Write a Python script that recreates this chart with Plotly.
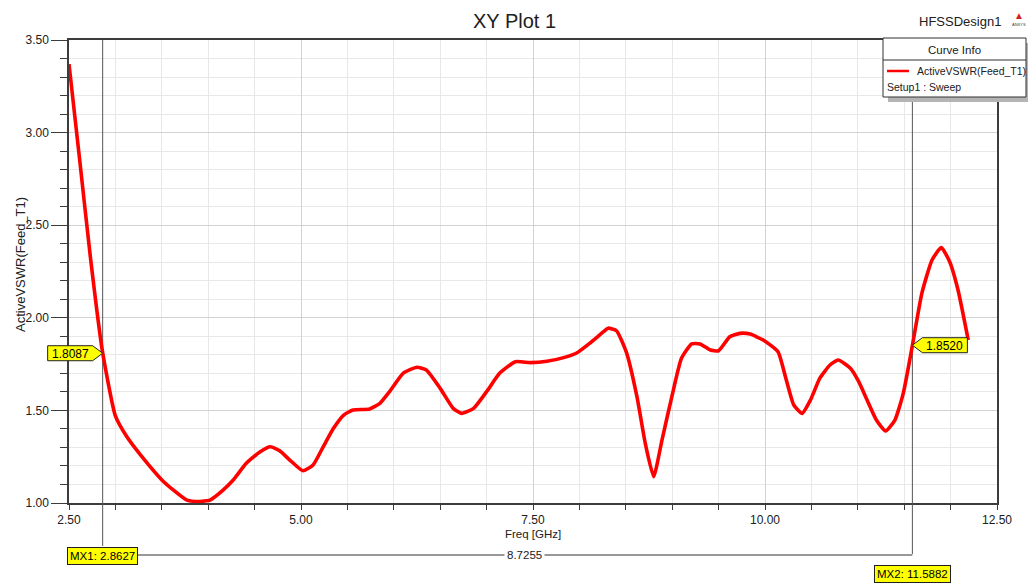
import plotly.graph_objects as go

# Swept frequency response of the active VSWR at port Feed_T1
freq_ghz = [2.50, 2.62, 2.73, 2.86, 3.00, 3.12, 3.27, 3.52, 3.77, 3.91,
            3.98, 4.02, 4.16, 4.27, 4.41, 4.56, 4.67, 4.77, 4.88, 5.02,
            5.13, 5.24, 5.35, 5.46, 5.56, 5.74, 5.85, 5.96, 6.10, 6.25,
            6.35, 6.50, 6.64, 6.73, 6.86, 7.00, 7.14, 7.31, 7.47, 7.65,
            7.83, 7.97, 8.11, 8.26, 8.31, 8.40, 8.51, 8.62, 8.71, 8.80,
            8.89, 9.00, 9.10, 9.21, 9.30, 9.41, 9.50, 9.62, 9.73, 9.84,
            9.98, 10.14, 10.22, 10.31, 10.40, 10.49, 10.59, 10.70, 10.79, 10.92,
            11.01, 11.10, 11.20, 11.30, 11.40, 11.49, 11.59, 11.69, 11.80, 11.90,
            11.99, 12.08, 12.19]
active_vswr = [3.37, 2.83, 2.33, 1.82, 1.47, 1.36, 1.26, 1.115, 1.016, 1.008,
               1.012, 1.016, 1.07, 1.124, 1.214, 1.277, 1.304, 1.282, 1.232, 1.174,
               1.205, 1.304, 1.403, 1.475, 1.502, 1.508, 1.538, 1.605, 1.70, 1.733,
               1.718, 1.619, 1.511, 1.484, 1.511, 1.601, 1.70, 1.763, 1.758, 1.765,
               1.785, 1.81, 1.862, 1.925, 1.944, 1.93, 1.808, 1.574, 1.322, 1.142,
               1.34, 1.583, 1.781, 1.859, 1.859, 1.826, 1.822, 1.898, 1.916, 1.912,
               1.88, 1.817, 1.682, 1.529, 1.484, 1.556, 1.673, 1.745, 1.772, 1.727,
               1.655, 1.556, 1.448, 1.389, 1.448, 1.592, 1.855, 2.132, 2.312, 2.379,
               2.303, 2.15, 1.88]

# Markers
marker_names = ["MX1", "MX2"]
marker_freq = [2.8627, 11.5882]
marker_vswr = [1.8087, 1.8520]

x_range = [2.5, 12.5]
y_range = [1.0, 3.5]

# Figure geometry (pixels)
W, H = 1028, 585
PL, PR, PT, PB = 69, 997, 40, 503

FONT = "Liberation Sans, Arial, sans-serif"
RED = "#ff0000"
YEL = "#ffff00"
AXC = "#3c3c3c"
TXT = "#202020"


def xpx(v):
    return PL + (v - x_range[0]) / (x_range[1] - x_range[0]) * (PR - PL)


def ypx(v):
    return PB - (v - y_range[0]) / (y_range[1] - y_range[0]) * (PB - PT)


def px_x(p):
    return (p - PL) / (PR - PL)


def px_y(p):
    return (PB - p) / (PB - PT)


def label(text, x, y, size, xanchor="center", color=TXT, **kw):
    return dict(text=text, xref="paper", yref="paper", x=px_x(x), y=px_y(y),
                xanchor=xanchor, yanchor="middle", showarrow=False,
                font=dict(family=FONT, size=size, color=color), **kw)


fig = go.Figure()

# marker lines inside the plot area, behind the curve
for mf in marker_freq:
    fig.add_trace(go.Scatter(x=[mf, mf], y=y_range, mode="lines",
                             line=dict(color="#555555", width=1),
                             hoverinfo="skip", showlegend=False))

fig.add_trace(go.Scatter(x=freq_ghz, y=active_vswr, mode="lines",
                         line=dict(color=RED, width=3.6, shape="spline",
                                   smoothing=0.5),
                         name="ActiveVSWR(Feed_T1)", showlegend=False))

shapes = []
annotations = []

# marker lines continued below the axis
mx_px = [xpx(f) for f in marker_freq]
line_bottoms = [546, 554]
for xp, yb in zip(mx_px, line_bottoms):
    shapes.append(dict(type="line", xref="paper", yref="paper",
                       x0=px_x(xp), x1=px_x(xp), y0=0, y1=px_y(yb),
                       line=dict(color="#555555", width=1), layer="above"))

# delta line between the markers
delta = marker_freq[1] - marker_freq[0]
delta_y = 555
shapes.append(dict(type="line", xref="paper", yref="paper",
                   x0=px_x(mx_px[0]), x1=px_x(mx_px[1]),
                   y0=px_y(delta_y), y1=px_y(delta_y),
                   line=dict(color="#303030", width=1), layer="above"))
lbl_half = 33
annotations.append(label(f"{delta:.4f}", (mx_px[0] + lbl_half + mx_px[1]) / 2,
                         delta_y, 11.5, bgcolor="white", borderpad=2))

# marker name labels below the axis
mx_label_y = [556, 574]
for name, mf, xp, yc in zip(marker_names, marker_freq, mx_px, mx_label_y):
    annotations.append(label(f"{name}: {mf:.4f}", xp, yc, 11.5, color="black",
                             bgcolor=YEL, bordercolor="#202020", borderwidth=1,
                             borderpad=2))

# pointed value tags at the marker crossings
tag_dirs = [-1, 1]
for mf, mv, d in zip(marker_freq, marker_vswr, tag_dirs):
    tx, ty = xpx(mf), ypx(mv)
    base = tx + d * 10
    far = tx + d * 55
    top, bot = ty - 7.5, ty + 7.5
    path = (f"M {px_x(far)},{px_y(top)} L {px_x(base)},{px_y(top)} "
            f"L {px_x(tx)},{px_y(ty)} L {px_x(base)},{px_y(bot)} "
            f"L {px_x(far)},{px_y(bot)} Z")
    shapes.append(dict(type="path", xref="paper", yref="paper", path=path,
                       fillcolor=YEL, line=dict(color="#202020", width=1),
                       layer="above"))
    annotations.append(label(f"{mv:.4f}", (base + far) / 2, ty + 0.5, 12,
                             color="black"))

# Curve Info box
bx0, by0, bx1, by1 = 883, 38, 1026, 97
shapes.append(dict(type="rect", xref="paper", yref="paper",
                   x0=px_x(bx0 + 5), x1=px_x(bx1 + 5), y0=px_y(by0 + 5), y1=px_y(by1 + 5),
                   fillcolor="#b4b4b4", line=dict(width=0), layer="above"))
shapes.append(dict(type="rect", xref="paper", yref="paper",
                   x0=px_x(bx0), x1=px_x(bx1), y0=px_y(by0), y1=px_y(by1),
                   fillcolor="white", line=dict(color="#303030", width=1), layer="above"))
shapes.append(dict(type="line", xref="paper", yref="paper",
                   x0=px_x(bx0), x1=px_x(bx1), y0=px_y(60), y1=px_y(60),
                   line=dict(color="#303030", width=1), layer="above"))
shapes.append(dict(type="line", xref="paper", yref="paper",
                   x0=px_x(887), x1=px_x(909), y0=px_y(71), y1=px_y(71),
                   line=dict(color=RED, width=2.5), layer="above"))
annotations.append(label("Curve Info", (bx0 + bx1) / 2, 50, 11.5))
annotations.append(label("ActiveVSWR(Feed_T1)", 915, 71, 10.5, xanchor="left"))
annotations.append(label("Setup1 : Sweep", 885, 87, 10.5, xanchor="left"))

# titles
annotations.append(label("XY Plot 1", 514, 21, 20))
annotations.append(label("HFSSDesign1", 1003, 22, 13, xanchor="right"))
annotations.append(label("▲", 1019, 15, 10, color="#d42020"))
annotations.append(label("ANSYS", 1019, 25, 4, color="#404040"))
annotations.append(label("Freq [GHz]", 533, 534, 11.5))
annotations.append(label("ActiveVSWR(Feed_T1)", 20, 265, 13, textangle=-90))

fig.update_layout(
    width=W, height=H, autosize=False,
    margin=dict(l=PL, r=W - PR, t=PT, b=H - PB, pad=0),
    paper_bgcolor="white", plot_bgcolor="white",
    shapes=shapes, annotations=annotations,
    xaxis=dict(range=x_range, dtick=2.5, tick0=2.5, tickformat=".2f",
               showline=True, mirror=True, linecolor=AXC, linewidth=1.5,
               ticks="outside", ticklen=5, tickcolor=AXC, tickwidth=1,
               showgrid=True, gridcolor="#d2d2d2", gridwidth=1,
               zeroline=False,
               tickfont=dict(family=FONT, size=12, color=TXT),
               minor=dict(dtick=0.5, ticks="outside", ticklen=5, tickcolor=AXC,
                          showgrid=True, gridcolor="#e8e8e8", gridwidth=1)),
    yaxis=dict(range=y_range, dtick=0.5, tick0=1.0, tickformat=".2f",
               showline=True, mirror=True, linecolor=AXC, linewidth=1.5,
               ticks="outside", ticklen=16, tickcolor=AXC, tickwidth=1,
               showgrid=True, gridcolor="#d2d2d2", gridwidth=1,
               zeroline=False,
               tickfont=dict(family=FONT, size=12, color=TXT),
               minor=dict(dtick=0.1, ticks="outside", ticklen=7, tickcolor=AXC,
                          showgrid=True, gridcolor="#e8e8e8", gridwidth=1)),
)

fig.write_html("out.html")
